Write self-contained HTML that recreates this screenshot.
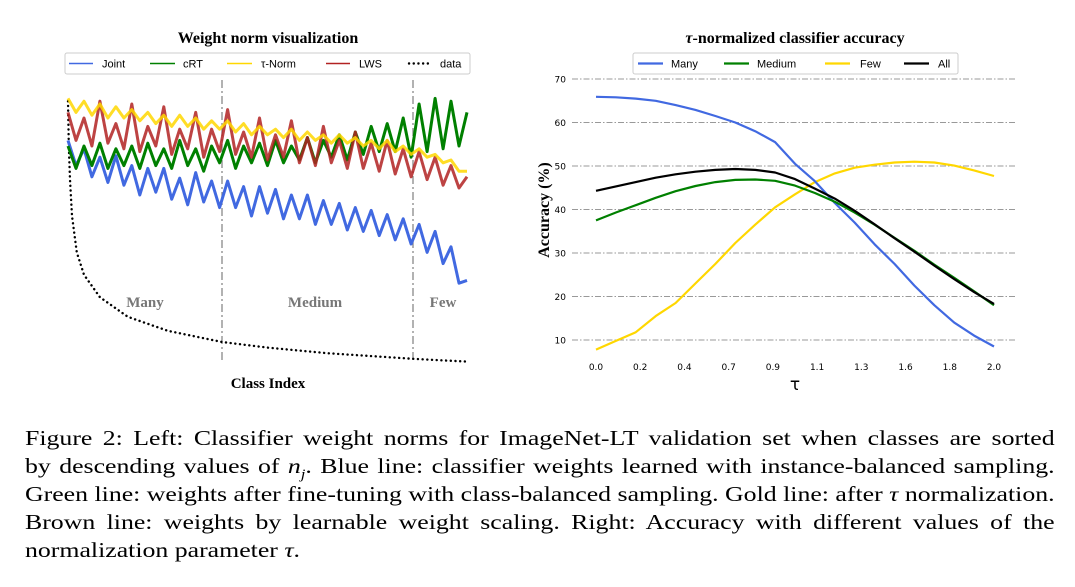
<!DOCTYPE html>
<html><head><meta charset="utf-8"><style>
body{margin:0;background:#fff;width:1075px;height:587px;overflow:hidden;position:relative}
svg{position:absolute;left:0;top:0}
.cap{position:absolute;left:25px;width:858px;transform:scaleX(1.2);transform-origin:0 0;font-family:"Liberation Serif",serif;font-size:21.5px;line-height:28px;color:#000}
.cap div{text-align:justify;text-align-last:justify;white-space:nowrap;height:28px}
.cap div.last{text-align-last:left}
</style></head><body>
<svg id="fig" width="1075" height="420">
<g id="left">
<text x="268" y="43" text-anchor="middle" font-family="Liberation Serif" font-weight="bold" font-size="16">Weight norm visualization</text>
<rect x="65" y="53" width="405" height="21" rx="2" fill="#fff" stroke="#ccc"/>
<g font-family="Liberation Sans" font-size="11">
<line x1="69" y1="63.5" x2="93" y2="63.5" stroke="#4169e1" stroke-width="1.5"/><text x="102" y="67.5">Joint</text>
<line x1="150" y1="63.5" x2="175" y2="63.5" stroke="#008000" stroke-width="1.5"/><text x="183" y="67.5">cRT</text>
<line x1="227" y1="63.5" x2="252" y2="63.5" stroke="#ffd700" stroke-width="1.5"/><text x="261" y="67.5">τ-Norm</text>
<line x1="326" y1="63.5" x2="350" y2="63.5" stroke="#b22222" stroke-width="1.5"/><text x="359" y="67.5">LWS</text>
<line x1="409" y1="63.5" x2="430" y2="63.5" stroke="#000" stroke-width="2.4" stroke-dasharray="0.1 4.6" stroke-linecap="round"/><text x="440" y="67.5">data</text>
</g>
<line x1="222" y1="80" x2="222" y2="362" stroke="#888" stroke-width="1.3" stroke-dasharray="8 3 2 3"/>
<line x1="413" y1="80" x2="413" y2="362" stroke="#888" stroke-width="1.3" stroke-dasharray="8 3 2 3"/>
<g font-family="Liberation Serif" font-weight="bold" font-size="15" fill="#777" text-anchor="middle">
<text x="145" y="307">Many</text>
<text x="315" y="307">Medium</text>
<text x="443" y="307">Few</text>
</g>
<text x="268" y="388" text-anchor="middle" font-family="Liberation Serif" font-weight="bold" font-size="15">Class Index</text>
</g>
<g id="right">
<text x="795" y="43" text-anchor="middle" font-family="Liberation Serif" font-weight="bold" font-size="16"><tspan font-style="italic">τ</tspan>-normalized classifier accuracy</text>
<text transform="translate(549,210) rotate(-90)" text-anchor="middle" font-family="Liberation Serif" font-weight="bold" font-size="16">Accuracy (%)</text>
<text x="795" y="390" text-anchor="middle" font-family="DejaVu Sans" font-size="17">τ</text>
<rect x="633" y="53" width="325" height="21" rx="2" fill="#fff" stroke="#ccc"/>
<g font-family="Liberation Sans" font-size="11">
<line x1="638" y1="63.5" x2="663" y2="63.5" stroke="#4169e1" stroke-width="2.2"/><text x="671" y="67.5">Many</text>
<line x1="724" y1="63.5" x2="749" y2="63.5" stroke="#008000" stroke-width="2.2"/><text x="757" y="67.5">Medium</text>
<line x1="825" y1="63.5" x2="850" y2="63.5" stroke="#ffd700" stroke-width="2.2"/><text x="860" y="67.5">Few</text>
<line x1="904" y1="63.5" x2="929" y2="63.5" stroke="#000" stroke-width="2.2"/><text x="938" y="67.5">All</text>
</g>
</g>
</svg>
<div class="cap" style="top:424px">
<div>Figure 2: Left: Classifier weight norms for ImageNet-LT validation set when classes are sorted</div>
<div>by descending values of <i>n<sub style="font-size:14px">j</sub></i>. Blue line: classifier weights learned with instance-balanced sampling.</div>
<div>Green line: weights after fine-tuning with class-balanced sampling. Gold line: after <i>τ</i> normalization.</div>
<div>Brown line: weights by learnable weight scaling. Right: Accuracy with different values of the</div>
<div class="last">normalization parameter <i>τ</i>.</div>
</div>
<script>
// ---- left chart data ----
const classIdx = [0,20,40,60,80,100,120,140,160,180,200,220,240,260,280,300,320,340,360,380,400,420,440,460,480,500,520,540,560,580,600,620,640,660,680,700,720,740,760,780,800,820,840,860,880,900,920,940,960,980,1000];
const jointNorm = [82,73,79,69,76,67,76.5,66,73,62.5,72,63.5,72,61,68.5,59,70.5,60,67.5,58,67.5,58,65.5,55,65.5,56,64.5,54,62.5,54,62.5,52,60.5,52,59.5,50,58,49.5,57,48,55.5,46.5,54,45,52,42,49.5,38,44,31,32];
const crtNorm = [80,72,80,73,81,72,79,73,80,72,81,73,79,72,82,73,79,71,80,74,82,72,80,74,81,73,82,74,80,75,83,74,82,76,84,75,85,77,87,78,88,78,90,76,95,78,97,79,96,80,92];
const tauNorm = [97,92,96,91,95,90,94,90,93,89,92,88,91,87,91,87,90,86,89,86,89,85,88,84,87,84,86,83,86,82,85,82,84,81,84,81,83,80,82,79,82,78,80,77,79,76,77,74,75,71,71];
const lwsNorm = [92,82,90,80,96,81,88,79,95,78,87,80,94,77,86,79,92,76,86,78,93,77,85,76,90,75,84,76,89,74,83,73,87,74,82,72,85,72,81,71,82,70,79,69,78,68,76,66,73,65,69];
const dataClass = [0,2,5,10,22,40,80,150,250,386,500,650,865,1000];
const dataCount = [96,80,68,55,42,34,26,19,14,10,8,6,4,3];
// ---- right chart data ----
const tauVals = [0,0.1,0.2,0.3,0.4,0.5,0.6,0.7,0.8,0.9,1.0,1.1,1.2,1.3,1.4,1.5,1.6,1.7,1.8,1.9,2.0];
const manyAcc = [65.9,65.8,65.5,65,64,62.9,61.5,60,58,55.5,50.5,46.5,41.5,37,32,27.5,22.5,18,14,11,8.5];
const mediumAcc = [37.5,39.3,41,42.7,44.2,45.4,46.3,46.8,46.9,46.6,45.5,43.8,41.8,39.3,36.5,33.5,30.5,27.3,24.3,21.2,18];
const fewAcc = [7.8,9.8,11.8,15.5,18.5,23,27.5,32.3,36.5,40.5,43.5,46.3,48.3,49.6,50.3,50.8,51,50.8,50.1,49,47.7];
const allAcc = [44.3,45.3,46.3,47.3,48.1,48.7,49.1,49.3,49.1,48.5,47,44.8,42.5,39.7,36.6,33.4,30.3,27.1,24,21,18.3];
const yTicks = [10,20,30,40,50,60,70];
const xTickLabels = ["0.0","0.2","0.4","0.7","0.9","1.1","1.3","1.6","1.8","2.0"];

const NS = "http://www.w3.org/2000/svg";
const svg = document.getElementById('fig');
const lg = document.getElementById('left'), rg = document.getElementById('right');
const lx = c => 68 + c * 0.399;
const ly = v => 370 - v * 2.8;
const rx = t => 596 + t * 199;
const ry = v => 340 - (v - 10) * 4.35;

function poly(parent, xs, ys, fx, fy, color, w, name, extra) {
  const p = document.createElementNS(NS, 'polyline');
  p.setAttribute('points', xs.map((x, i) => fx(x).toFixed(1) + ',' + fy(ys[i]).toFixed(1)).join(' '));
  p.setAttribute('fill', 'none');
  p.setAttribute('stroke', color);
  p.setAttribute('stroke-width', w);
  p.setAttribute('stroke-linejoin', 'round');
  if (extra) for (const k in extra) p.setAttribute(k, extra[k]);
  
  
  parent.appendChild(p);
}
// left series
poly(lg, dataClass, dataCount, lx, ly, '#000', 2.4, 'data-line', {'stroke-dasharray': '0.1 4.6', 'stroke-linecap': 'round'});
poly(lg, classIdx, jointNorm, lx, ly, '#4169e1', 3, 'joint-line');
poly(lg, classIdx, crtNorm, lx, ly, '#008000', 3, 'crt-line');
poly(lg, classIdx, lwsNorm, lx, ly, '#b22222', 3, 'lws-line', {'stroke-opacity': '0.85'});
poly(lg, classIdx, tauNorm, lx, ly, '#ffd700', 3, 'tau-norm-line', {'stroke-opacity': '0.85'});

// right grid & ticks
yTicks.forEach(v => {
  const l = document.createElementNS(NS, 'line');
  l.setAttribute('x1', 572); l.setAttribute('x2', 1015);
  l.setAttribute('y1', ry(v)); l.setAttribute('y2', ry(v));
  l.setAttribute('stroke', '#999'); l.setAttribute('stroke-width', '1');
  l.setAttribute('stroke-dasharray', '6 2 1.5 2');
  
  
  rg.insertBefore(l, rg.firstChild);
  const t = document.createElementNS(NS, 'text');
  t.setAttribute('x', 566); t.setAttribute('y', ry(v) + 3.5);
  t.setAttribute('text-anchor', 'end'); t.setAttribute('font-family', 'DejaVu Sans'); t.setAttribute('font-size', '9');
  t.textContent = v;
  
  
  rg.appendChild(t);
});
xTickLabels.forEach((s, i) => {
  const t = document.createElementNS(NS, 'text');
  t.setAttribute('x', rx(i * 2 / 9)); t.setAttribute('y', 370);
  t.setAttribute('text-anchor', 'middle'); t.setAttribute('font-family', 'DejaVu Sans'); t.setAttribute('font-size', '9');
  t.textContent = s;
  
  
  rg.appendChild(t);
});
poly(rg, tauVals, fewAcc, rx, ry, '#ffd700', 2.2, 'few-line');
poly(rg, tauVals, manyAcc, rx, ry, '#4169e1', 2.2, 'many-line');
poly(rg, tauVals, mediumAcc, rx, ry, '#008000', 2.2, 'medium-line');
poly(rg, tauVals, allAcc, rx, ry, '#000', 2.2, 'all-line');
</script>
</body></html>
